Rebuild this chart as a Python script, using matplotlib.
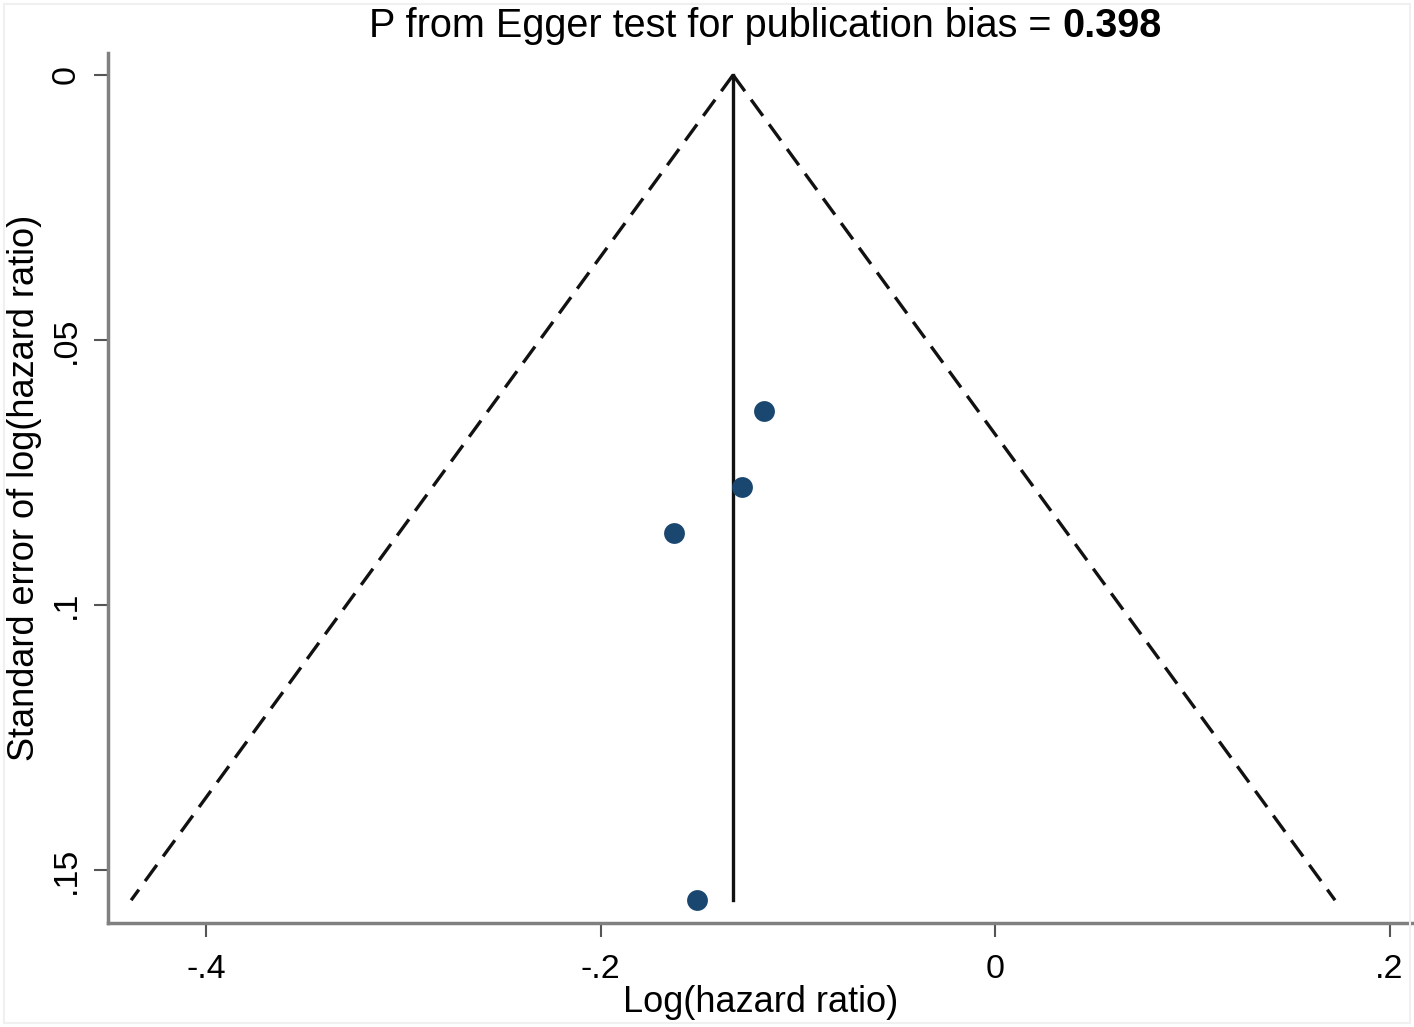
import matplotlib
matplotlib.use("Agg")
import matplotlib.pyplot as plt
import numpy as np

# Data
log_hr = [-0.1171, -0.1283, -0.1627, -0.1511]
se_log_hr = [0.0634, 0.0777, 0.0864, 0.1557]
pooled = -0.1328
se_max = 0.1557
egger_p = "0.398"
xticks = [-0.4, -0.2, 0.0, 0.2]
xtick_labels = ["-.4", "-.2", "0", ".2"]
yticks = [0.0, 0.05, 0.10, 0.15]
ytick_labels = ["0", ".05", ".1", ".15"]

plt.rcParams['font.family'] = ['Liberation Sans', 'DejaVu Sans']
plt.rcParams['lines.scale_dashes'] = False

fig = plt.figure(figsize=(14.14, 10.27), dpi=100)
ax = fig.add_axes([108/1414, 1 - 923/1027, (1413-108)/1414, (923-53)/1027])

# funnel limits (pseudo 95% CI)
z = 1.96
dash = (14.4, 7.6)
ax.plot([pooled, pooled - z*se_max], [0, se_max], color='#111111', lw=2.4,
        dashes=dash, dash_capstyle='butt')
ax.plot([pooled, pooled + z*se_max], [0, se_max], color='#111111', lw=2.4,
        dashes=dash, dash_capstyle='butt')
ax.plot([pooled, pooled], [0, se_max], color='#111111', lw=2.4)

ax.plot(log_hr, se_log_hr, 'o', color='#1a476f', markersize=15,
        markeredgewidth=0, zorder=5)

ax.set_xlim(-0.4497, 0.2119)
ax.set_ylim(0.16, -0.00415)

ax.set_xticks(xticks)
ax.set_xticklabels(xtick_labels)
ax.set_yticks(yticks)
ax.set_yticklabels(ytick_labels, rotation=90, va='center')

for side in ['top', 'right']:
    ax.spines[side].set_visible(False)
for side in ['left', 'bottom']:
    ax.spines[side].set_color('#808080')
    ax.spines[side].set_linewidth(2.5)

ax.tick_params(axis='both', direction='out', length=10, width=1.5,
               color='#555555', labelsize=24.5, labelcolor='black')
ax.tick_params(axis='x', pad=12)
ax.tick_params(axis='y', pad=9)

ax.set_xlabel("Log(hazard ratio)", fontsize=26, labelpad=0)
ax.set_ylabel("Standard error of log(hazard ratio)", fontsize=26, labelpad=6)

# Title with bold p value
t1 = fig.text(0, 0, "P from Egger test for publication bias = ", fontsize=28.5,
              va='center', ha='left')
t2 = fig.text(0, 0, egger_p, fontsize=28.5, fontweight='bold', va='center', ha='left')
fig.canvas.draw()
r = fig.canvas.get_renderer()
w1 = t1.get_window_extent(r).width
w2 = t2.get_window_extent(r).width
W = fig.bbox.width
cx = 765
x0 = cx - (w1 + w2) / 2
ty = 1 - 26/1027
t1.set_position((x0 / W, ty))
t2.set_position(((x0 + w1) / W, ty))

# faint outer frame
fig.patches.append(plt.Rectangle((4/1414, 4/1027), 1 - 8/1414, 1 - 8/1027,
                                 transform=fig.transFigure, fill=False,
                                 edgecolor='#f0f0f0', lw=1.5))

fig.savefig("out.png", dpi=100, facecolor='white')
